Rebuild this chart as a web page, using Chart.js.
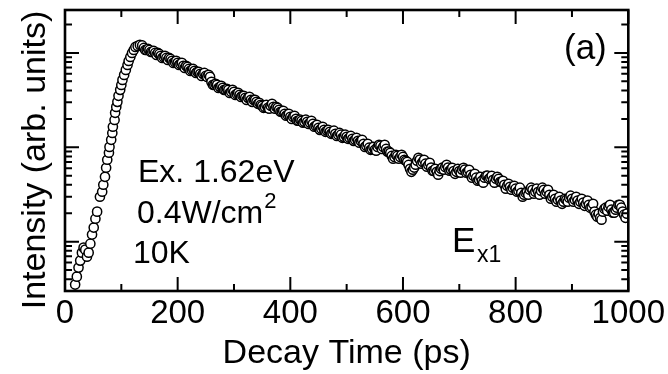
<!DOCTYPE html>
<html>
<head>
<meta charset="utf-8">
<script src="https://cdn.jsdelivr.net/npm/chart.js@4"></script>
<style>
  html, body { margin: 0; padding: 0; background: #fff; }
  #wrap { width: 668px; height: 374px; position: relative; }
</style>
</head>
<body>
<div id="wrap"><canvas id="decayChart" width="668" height="374"></canvas></div>
<script>
// decay time (ps) of each measured point
const decayTime = [
    18, 21, 24, 27, 30, 33, 36, 39, 42, 45, 48, 51, 54, 57, 62, 66, 68, 71, 73, 75, 78, 79,
    82, 84, 85, 88, 89, 91, 93, 95, 98, 100, 102, 105, 108, 111, 113, 116, 119, 122, 125, 129, 133, 137,
    140, 145, 150, 155, 160, 165, 170, 175, 180, 185,
    190, 195, 200, 205, 210, 215, 220, 225, 230, 235,
    240, 245, 250, 255, 260, 265, 270, 275, 280, 285,
    290, 295, 300, 305, 310, 315, 320, 325, 330, 335,
    340, 345, 350, 355, 360, 365, 370, 375, 380, 385,
    390, 395, 400, 405, 410, 415, 420, 425, 430, 435,
    440, 445, 450, 455, 460, 465, 470, 475, 480, 485,
    490, 495, 500, 505, 510, 515, 520, 525, 530, 535,
    540, 545, 550, 555, 560, 565, 570, 575, 580, 585,
    590, 595, 600, 605, 610, 615, 620, 625, 630, 635,
    640, 645, 650, 655, 660, 665, 670, 675, 680, 685,
    690, 695, 700, 705, 710, 715, 720, 725, 730, 735,
    740, 745, 750, 755, 760, 765, 770, 775, 780, 785,
    790, 795, 800, 805, 810, 815, 820, 825, 830, 835,
    840, 845, 850, 855, 860, 865, 870, 875, 880, 885,
    890, 895, 900, 905, 910, 915, 920, 925, 930, 935,
    940, 945, 950, 955, 960, 965, 970, 975, 980, 985,
    990, 995
];

// PL intensity (arb. units)
const intensity = [
    3.51, 4.26, 5.31, 6.30, 7.65, 8.64, 8.23, 6.94, 7.65, 9.52, 11.9, 14.1, 17.5, 20.8, 29.9, 33.8, 40.1, 48.7, 60.7, 73.8, 87.5, 101,
    120, 142, 165, 195, 232, 268, 303, 351, 406, 458, 518, 585, 661, 746, 822, 907, 1000, 1076, 1157, 1186, 1216, 1200,
    1129, 1076, 1076, 1025, 1000, 1000, 930, 907, 885, 885,
    823, 803, 784, 765, 729, 729, 677, 661, 645, 630,
    600, 600, 571, 585, 493, 459, 459, 437, 426, 406,
    406, 387, 387, 368, 359, 351, 334, 334, 318, 318,
    303, 296, 275, 268, 262, 275, 268, 268, 249, 238,
    226, 221, 210, 210, 200, 191, 191, 186, 186, 182,
    177, 169, 161, 157, 153, 150, 146, 142, 139, 136,
    136, 129, 129, 126, 123, 120, 117, 117, 109, 104,
    99, 96, 94, 101, 104, 101, 96, 90, 81, 79,
    81, 79, 79, 72, 65, 55, 61, 72, 74, 70,
    67, 65, 61, 56, 55, 56, 61, 62, 61, 58,
    56, 55, 56, 58, 58, 55, 51, 50, 47.6, 45.3,
    44.2, 47.6, 50, 47.6, 45.3, 46.4, 46.4, 43.1, 40.1, 39.1,
    38.2, 37.3, 36.4, 34.6, 33.0, 31.4, 33.8, 35.5, 35.5, 33.8,
    33.8, 34.6, 35.5, 33.8, 31.4, 29.9, 28.5, 27.8, 27.2, 26.5,
    27.8, 29.2, 28.5, 27.8, 27.2, 26.5, 25.9, 25.2, 24.6, 23.5,
    20.8, 18.4, 17.9, 20.8, 22.9, 23.5, 21.8, 20.3, 22.9, 24.6,
    20.8, 17.9
];

// the in-between samples of the decay (they make the thick scattered band)
const midTime = [
    142.5, 147.5, 152.5, 157.5, 162.5, 167.5, 172.5, 177.5, 182.5, 187.5,
    192.5, 197.5, 202.5, 207.5, 212.5, 217.5, 222.5, 227.5, 232.5, 237.5,
    242.5, 247.5, 252.5, 257.5, 262.5, 267.5, 272.5, 277.5, 282.5, 287.5,
    292.5, 297.5, 302.5, 307.5, 312.5, 317.5, 322.5, 327.5, 332.5, 337.5,
    342.5, 347.5, 352.5, 357.5, 362.5, 367.5, 372.5, 377.5, 382.5, 387.5,
    392.5, 397.5, 402.5, 407.5, 412.5, 417.5, 422.5, 427.5, 432.5, 437.5,
    442.5, 447.5, 452.5, 457.5, 462.5, 467.5, 472.5, 477.5, 482.5, 487.5,
    492.5, 497.5, 502.5, 507.5, 512.5, 517.5, 522.5, 527.5, 532.5, 537.5,
    542.5, 547.5, 552.5, 557.5, 562.5, 567.5, 572.5, 577.5, 582.5, 587.5,
    592.5, 597.5, 602.5, 607.5, 612.5, 617.5, 622.5, 627.5, 632.5, 637.5,
    642.5, 647.5, 652.5, 657.5, 662.5, 667.5, 672.5, 677.5, 682.5, 687.5,
    692.5, 697.5, 702.5, 707.5, 712.5, 717.5, 722.5, 727.5, 732.5, 737.5,
    742.5, 747.5, 752.5, 757.5, 762.5, 767.5, 772.5, 777.5, 782.5, 787.5,
    792.5, 797.5, 802.5, 807.5, 812.5, 817.5, 822.5, 827.5, 832.5, 837.5,
    842.5, 847.5, 852.5, 857.5, 862.5, 867.5, 872.5, 877.5, 882.5, 887.5,
    892.5, 897.5, 902.5, 907.5, 912.5, 917.5, 922.5, 927.5, 932.5, 937.5,
    942.5, 947.5, 952.5, 957.5, 962.5, 967.5, 972.5, 977.5, 982.5, 987.5,
    992.5, 997.5
];

const midIntensity = [
    1076, 1102, 1025, 1050, 953, 976, 885, 930, 843, 864,
    784, 823, 747, 784, 694, 711, 645, 677, 614, 630,
    571, 614, 557, 557, 459, 470, 426, 448, 406, 416,
    377, 406, 359, 377, 342, 351, 318, 342, 303, 318,
    289, 282, 262, 282, 256, 289, 256, 262, 238, 243,
    216, 226, 200, 216, 191, 196, 182, 196, 177, 191,
    165, 173, 153, 165, 146, 153, 139, 150, 132, 142,
    126, 136, 123, 132, 117, 126, 112, 120, 101, 109,
    94, 101, 92, 106, 96, 106, 90, 87.5, 75.6, 83.3,
    75.6, 83.3, 73.8, 70.3, 59.2, 57.8, 65.3, 77.4, 66.9, 73.8,
    62.2, 68.6, 56.4, 59.2, 51.2, 59.2, 57.8, 65.3, 56.4, 60.7,
    52.4, 59.2, 53.7, 60.7, 53.7, 57.8, 47.6, 52.4, 44.2, 48.7,
    42.1, 49.9, 46.4, 49.9, 42.1, 48.7, 43.1, 44.2, 36.4, 41.1,
    35.5, 39.1, 33.8, 37.3, 29.9, 33.0, 31.4, 37.3, 32.2, 36.4,
    31.4, 37.3, 32.2, 35.5, 28.5, 31.4, 26.5, 29.9, 25.2, 28.5,
    26.5, 30.7, 26.5, 29.9, 25.2, 28.5, 24.0, 27.2, 22.9, 25.2,
    19.3, 19.8, 17.1, 22.3, 21.3, 24.6, 20.3, 21.8, 24.6, 22.9,
    19.3, 19.8
];

const xMajorTicks = [0, 200, 400, 600, 800, 1000];
const xMinorTicks = [100, 300, 500, 700, 900];
const yDecades = [1, 10, 100, 1000];
const yRange = [3, 2850];

document.addEventListener("DOMContentLoaded", function () {
    const ctx = document.getElementById("decayChart").getContext("2d");
    const fontName = '"Liberation Sans", Arial, Helvetica, sans-serif';

    // one series, drawn in time order like the scope trace
    const points = decayTime.map((t, i) => ({ x: t, y: intensity[i] }))
        .concat(midTime.map((t, i) => ({ x: t, y: midIntensity[i] })))
        .sort((a, b) => a.x - b.x);

    // frame, inward ticks and the text labels
    const framePlugin = {
        id: "frame",
        afterDraw(chart) {
            const c = chart.ctx;
            const area = chart.chartArea;
            const xs = chart.scales.x;
            const ys = chart.scales.y;
            const major = 14, minor = 7;

            c.save();
            c.strokeStyle = "#000";
            c.lineWidth = 2;
            c.beginPath();

            function xTick(v, len) {
                const px = xs.getPixelForValue(v);
                c.moveTo(px, area.bottom); c.lineTo(px, area.bottom - len);
                c.moveTo(px, area.top); c.lineTo(px, area.top + len);
            }
            function yTick(v, len) {
                if (v < yRange[0] || v > yRange[1]) return;
                const py = ys.getPixelForValue(v);
                c.moveTo(area.left, py); c.lineTo(area.left + len, py);
                c.moveTo(area.right, py); c.lineTo(area.right - len, py);
            }
            xMajorTicks.forEach(v => xTick(v, major));
            xMinorTicks.forEach(v => xTick(v, minor));
            yDecades.forEach(d => {
                yTick(d, major);
                for (let m = 2; m <= 9; m++) yTick(d * m, minor);
            });
            c.stroke();

            c.lineWidth = 2.6;
            c.strokeRect(area.left, area.top, area.right - area.left, area.bottom - area.top);

            // text
            c.fillStyle = "#000";
            c.textBaseline = "alphabetic";
            c.textAlign = "left";
            c.font = "32px " + fontName;
            c.fillText("Ex. 1.62eV", 138, 182);
            c.fillText("0.4W/cm", 137, 223);
            const w = c.measureText("0.4W/cm").width;
            c.fillText("10K", 133, 263);
            c.font = "22px " + fontName;
            c.fillText("2", 137 + w + 1, 208);

            c.font = "35px " + fontName;
            c.fillText("(a)", 564, 59);
            c.fillText("E", 452, 252);
            c.font = "23px " + fontName;
            c.fillText("x1", 477, 262);

            // y axis title
            c.translate(45, 160);
            c.rotate(-Math.PI / 2);
            c.textAlign = "center";
            c.font = "34px " + fontName;
            c.fillText("Intensity (arb. units)", 0, 0);
            c.restore();
        }
    };

    new Chart(ctx, {
        type: "scatter",
        data: {
            datasets: [{
                data: points,
                showLine: false,
                pointStyle: "circle",
                pointRadius: 4.6,
                pointBackgroundColor: "#fff",
                pointBorderColor: "#000",
                pointBorderWidth: 1.5
            }]
        },
        options: {
            responsive: false,
            animation: false,
            events: [],
            layout: { padding: { top: 10, right: 39, left: 0, bottom: 0 } },
            plugins: {
                legend: { display: false },
                tooltip: { enabled: false }
            },
            scales: {
                x: {
                    type: "linear",
                    min: 0,
                    max: 1000,
                    afterBuildTicks: scale => {
                        scale.ticks = xMajorTicks.map(v => ({ value: v }));
                    },
                    afterFit: scale => { scale.height = 83; },
                    grid: { display: false, drawTicks: false },
                    border: { display: false },
                    ticks: {
                        color: "#000",
                        font: { family: fontName, size: 33 },
                        padding: 3,
                        maxRotation: 0,
                        autoSkip: false,
                        callback: v => String(v)
                    },
                    title: {
                        display: true,
                        text: "Decay Time (ps)",
                        color: "#000",
                        font: { family: fontName, size: 34 },
                        padding: { top: 0, bottom: 0 }
                    }
                },
                y: {
                    type: "logarithmic",
                    min: yRange[0],
                    max: yRange[1],
                    afterFit: scale => { scale.width = 65; },
                    grid: { display: false, drawTicks: false },
                    border: { display: false },
                    ticks: { display: false }
                }
            }
        },
        plugins: [framePlugin]
    });
});
</script>
</body>
</html>
